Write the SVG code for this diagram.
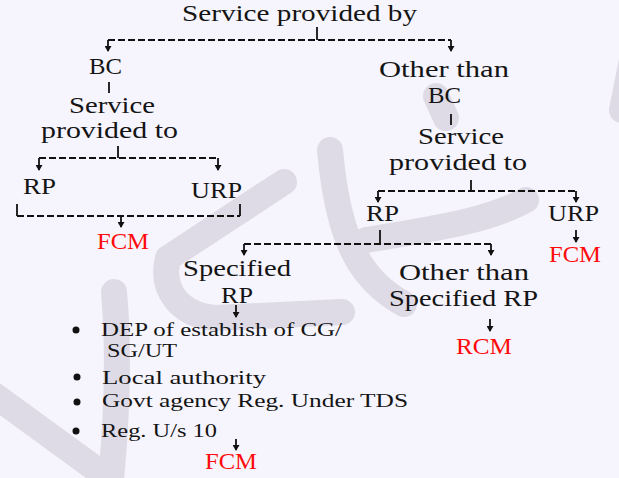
<svg xmlns="http://www.w3.org/2000/svg" width="619" height="478" viewBox="0 0 619 478">
<defs>
<style>
text{font-family:Liberation Serif,Times New Roman,serif}
.t{font-size:22.5px;fill:#141414}
.b{font-size:19.5px;fill:#141414}
.r{font-size:22.5px;fill:#ff0a0a}
.d{stroke:#111;stroke-width:1.8;fill:none;stroke-dasharray:7 3}
.s{stroke:#111;stroke-width:1.8;fill:none}
.a{stroke:#111;stroke-width:1.8;fill:none;marker-end:url(#ah)}
.w{stroke:#dedbe6;stroke-width:26;fill:none;stroke-linecap:round;stroke-linejoin:round}
</style>
<marker id="ah" viewBox="0 0 6 7" refX="5" refY="3.5" markerWidth="6" markerHeight="7" markerUnits="userSpaceOnUse" orient="auto">
<path d="M0,0 L6,3.5 L0,7 z" fill="#111"/>
</marker>
</defs>
<rect width="619" height="478" fill="#f6f4fd"/>
<g id="watermark">
<path class="w" d="M-10,392 L108,478"/>
<path class="w" d="M114,292 C120,360 116,430 110,490"/>
<path class="w" d="M284,182 L168,258 C160,290 180,315 215,318 L342,312"/>
<path class="w" d="M330,150 C338,240 360,280 404,304"/>
<path class="w" d="M366,240 C440,228 490,220 526,200"/>
<path class="w" d="M436,96 L446,118"/>
<path class="w" d="M632,60 L622,110"/>
</g>
<g id="connectors">
<path class="s" d="M317,27 V40"/>
<path class="d" d="M108,40 H451"/>
<path class="a" d="M108,40 V51"/>
<path class="a" d="M451,40 V51"/>
<path class="s" d="M109,82 V93"/>
<path class="s" d="M118,146 V158"/>
<path class="d" d="M39,158 H218"/>
<path class="a" d="M39,158 V170"/>
<path class="a" d="M218,158 V170"/>
<path class="s" d="M17,204 V216"/>
<path class="s" d="M240,204 V216"/>
<path class="d" d="M17,216 H240"/>
<path class="a" d="M121,216 V227"/>
<path class="s" d="M451,114 V125"/>
<path class="s" d="M471,180 V191"/>
<path class="d" d="M378,191 H576"/>
<path class="a" d="M378,191 V202"/>
<path class="a" d="M576,191 V202"/>
<path class="s" d="M380,230 V244"/>
<path class="d" d="M244,244 H491"/>
<path class="a" d="M244,244 V255"/>
<path class="a" d="M491,244 V255"/>
<path class="a" d="M576,230 V242"/>
<path class="a" d="M236,305 V317"/>
<path class="a" d="M490,319 V331"/>
<path class="a" d="M236,439 V450"/>
</g>
<g id="n-root"><text class="t" x="182" y="21" textLength="235" lengthAdjust="spacingAndGlyphs">Service provided by</text></g>
<g id="n-bc"><text class="t" x="89" y="74" textLength="33" lengthAdjust="spacingAndGlyphs">BC</text></g>
<g id="n-bc-to">
<text class="t" x="69" y="112.5" textLength="86" lengthAdjust="spacingAndGlyphs">Service</text>
<text class="t" x="41" y="138" textLength="137" lengthAdjust="spacingAndGlyphs">provided to</text>
</g>
<g id="n-bc-rp"><text class="t" x="23" y="194" textLength="33" lengthAdjust="spacingAndGlyphs">RP</text></g>
<g id="n-bc-urp"><text class="t" x="191" y="198" textLength="51" lengthAdjust="spacingAndGlyphs">URP</text></g>
<g id="n-bc-fcm"><text class="r" x="97" y="249" textLength="52" lengthAdjust="spacingAndGlyphs">FCM</text></g>
<g id="n-other">
<text class="t" x="379" y="77" textLength="130" lengthAdjust="spacingAndGlyphs">Other than</text>
<text class="t" x="428" y="103" textLength="33" lengthAdjust="spacingAndGlyphs">BC</text>
</g>
<g id="n-other-to">
<text class="t" x="418" y="144" textLength="86" lengthAdjust="spacingAndGlyphs">Service</text>
<text class="t" x="389" y="170" textLength="138" lengthAdjust="spacingAndGlyphs">provided to</text>
</g>
<g id="n-other-rp"><text class="t" x="366" y="221" textLength="33" lengthAdjust="spacingAndGlyphs">RP</text></g>
<g id="n-other-urp"><text class="t" x="548" y="221" textLength="51" lengthAdjust="spacingAndGlyphs">URP</text></g>
<g id="n-other-urp-fcm"><text class="r" x="549" y="262" textLength="52" lengthAdjust="spacingAndGlyphs">FCM</text></g>
<g id="n-spec">
<text class="t" x="183" y="276" textLength="108" lengthAdjust="spacingAndGlyphs">Specified</text>
<text class="t" x="221" y="303" textLength="32" lengthAdjust="spacingAndGlyphs">RP</text>
</g>
<g id="n-nonspec">
<text class="t" x="399" y="280" textLength="130" lengthAdjust="spacingAndGlyphs">Other than</text>
<text class="t" x="389" y="306" textLength="149" lengthAdjust="spacingAndGlyphs">Specified RP</text>
</g>
<g id="n-rcm"><text class="r" x="456" y="354" textLength="56" lengthAdjust="spacingAndGlyphs">RCM</text></g>
<g id="n-list">
<circle cx="76" cy="330" r="3.5" fill="#111"/>
<circle cx="77" cy="377" r="3.5" fill="#111"/>
<circle cx="77" cy="402" r="3.5" fill="#111"/>
<circle cx="76" cy="431" r="3.5" fill="#111"/>
<text class="b" x="101" y="336" textLength="241" lengthAdjust="spacingAndGlyphs">DEP of establish of CG/</text>
<text class="b" x="107" y="357" textLength="70" lengthAdjust="spacingAndGlyphs">SG/UT</text>
<text class="b" x="102" y="384" textLength="164" lengthAdjust="spacingAndGlyphs">Local authority</text>
<text class="b" x="102" y="407" textLength="306" lengthAdjust="spacingAndGlyphs">Govt agency Reg. Under TDS</text>
<text class="b" x="101" y="437" textLength="116" lengthAdjust="spacingAndGlyphs">Reg. U/s 10</text>
</g>
<g id="n-spec-fcm"><text class="r" x="205" y="469" textLength="52" lengthAdjust="spacingAndGlyphs">FCM</text></g>
</svg>
